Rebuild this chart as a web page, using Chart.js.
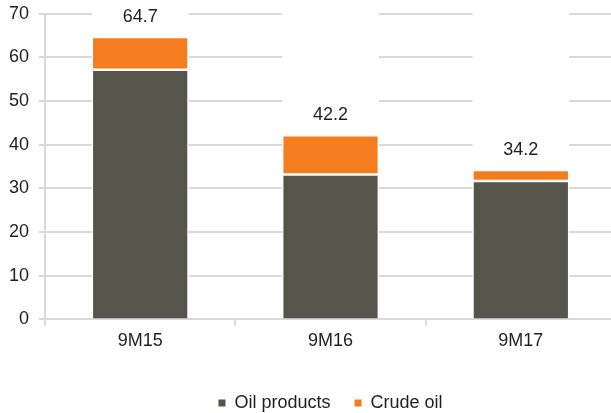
<!DOCTYPE html>
<html>
<head>
<meta charset="utf-8">
<script src="https://cdn.jsdelivr.net/npm/chart.js@4/dist/chart.umd.min.js"></script>
<style>
  html, body { margin: 0; padding: 0; background: #fff; overflow: hidden; width: 611px; height: 413px; }
  #wrap { width: 616px; height: 413px; }
</style>
</head>
<body>
<div id="wrap"><canvas id="c" width="616" height="413"></canvas></div>
<script>
// Sales volumes by period, stacked by product type
const periods = ['9M15', '9M16', '9M17'];
const oilProducts = [57.2, 33.2, 31.7];
const crudeOil = [7.5, 9.0, 2.5];
const yMin = 0, yMax = 70, yStep = 10;

const GRID = '#d9d9d9';
const TEXT = '#1f1f1f';
const FONT = '"Liberation Sans", Arial, sans-serif';

Chart.defaults.font.family = FONT;
Chart.defaults.font.size = 18;
Chart.defaults.color = TEXT;

// Value-axis grid: short tick marks left of the axis, and lines across the
// plot that run in the gaps between the bar columns
const valueGrid = {
  id: 'valueGrid',
  afterDatasetsDraw(chart) {
    const { ctx, chartArea: { left, right }, scales: { y } } = chart;
    const bars = chart.getDatasetMeta(0).data
      .map(el => [el.x - el.width / 2, el.x + el.width / 2])
      .sort((a, b) => a[0] - b[0]);
    const spans = [];
    let from = left;
    bars.forEach(([l, r]) => { spans.push([from, l]); from = r; });
    spans.push([from, right]);
    ctx.save();
    ctx.strokeStyle = GRID;
    ctx.lineWidth = 2;
    y.ticks.forEach(t => {
      const py = Math.round(y.getPixelForValue(t.value));
      ctx.beginPath();
      ctx.moveTo(left - 6, py);
      ctx.lineTo(left, py);
      if (t.value !== yMin) {
        spans.forEach(([a, b]) => { ctx.moveTo(a, py); ctx.lineTo(b, py); });
      }
      ctx.stroke();
    });
    ctx.restore();
  }
};

// Stack totals written above each bar
const totalLabels = {
  id: 'totalLabels',
  afterDatasetsDraw(chart) {
    const { ctx, scales: { x, y } } = chart;
    ctx.save();
    ctx.font = '18px ' + FONT;
    ctx.fillStyle = TEXT;
    ctx.textAlign = 'center';
    ctx.textBaseline = 'middle';
    periods.forEach((p, i) => {
      const total = oilProducts[i] + crudeOil[i];
      ctx.fillText(total.toFixed(1), x.getPixelForValue(i), y.getPixelForValue(total) - 20);
    });
    ctx.restore();
  }
};

new Chart(document.getElementById('c'), {
  type: 'bar',
  data: {
    labels: periods,
    datasets: [
      {
        label: 'Oil products',
        data: oilProducts,
        backgroundColor: '#55554b',
        borderColor: '#ffffff',
        borderWidth: 1.25,
        borderSkipped: 'start',
        inflateAmount: 0
      },
      {
        label: 'Crude oil',
        data: crudeOil,
        backgroundColor: '#f57d20',
        borderColor: '#ffffff',
        borderWidth: 1.25,
        borderSkipped: false,
        inflateAmount: 0
      }
    ]
  },
  options: {
    responsive: false,
    animation: false,
    devicePixelRatio: 1,
    datasets: { bar: { categoryPercentage: 1, barPercentage: 0.508 } },
    layout: { padding: { top: 0, left: 6, right: 0, bottom: -9 } },
    scales: {
      x: {
        stacked: true,
        offset: true,
        afterFit(scale) { scale.height += 13; },
        grid: { display: true, drawOnChartArea: false, drawTicks: true, tickLength: 6, color: GRID, lineWidth: 2 },
        border: { display: true, color: GRID, width: 2 },
        ticks: { padding: 5, color: TEXT, font: { size: 18 } }
      },
      y: {
        stacked: true,
        min: yMin,
        max: yMax,
        grid: { drawOnChartArea: false, drawTicks: true, tickLength: 13, tickColor: 'rgba(0,0,0,0)', color: GRID, lineWidth: 2 },
        border: { display: true, color: GRID, width: 2 },
        ticks: { stepSize: yStep, padding: 3, color: TEXT, font: { size: 18 } }
      }
    },
    plugins: {
      tooltip: { enabled: false },
      legend: {
        position: 'bottom',
        align: 'center',
        fullSize: false,
        labels: {
          boxWidth: 7,
          boxHeight: 7,
          padding: 24,
          color: TEXT,
          font: { size: 18 },
          generateLabels(chart) {
            return Chart.defaults.plugins.legend.labels.generateLabels(chart).map(l => {
              l.lineWidth = 0;
              l.strokeStyle = l.fillStyle;
              return l;
            });
          }
        }
      }
    }
  },
  plugins: [valueGrid, totalLabels]
});
</script>
</body>
</html>
